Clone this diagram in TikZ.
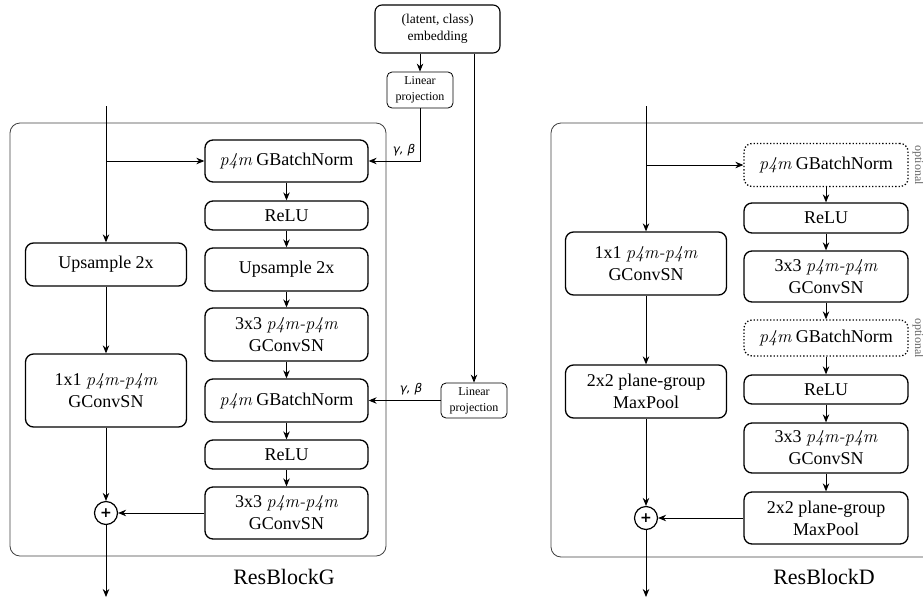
\documentclass[tikz,border=0pt]{standalone}
\usepackage{fontspec}
\setmainfont{Liberation Serif}
\newfontfamily\gbfont{DejaVu Sans}
\usetikzlibrary{arrows.meta}
\newcommand{\pfm}{{\fontfamily{lmr}\selectfont\itshape p4m}}
\newcommand{\pfmpfm}{{\fontfamily{lmr}\selectfont\itshape p4m-p4m}}
\tikzset{
  blk/.style={draw, line width=1.3pt, rounded corners=8pt, align=center, inner sep=0pt,
              font=\fontsize{18}{22}\selectfont},
  opt/.style={blk, dotted},
  small/.style={draw, line width=0.8pt, rounded corners=5pt, align=center, inner sep=0pt,
              font=\fontsize{12}{16}\selectfont},
  arr/.style={-{Stealth[length=8pt,width=6.5pt]}, line width=0.9pt},
  panel/.style={draw=black!75, line width=0.8pt, rounded corners=10pt},
  plus/.style={circle, draw, line width=1.2pt, minimum size=23pt, inner sep=0pt,
              font=\gbfont\bfseries\fontsize{14}{14}\selectfont},
  gb/.style={font=\gbfont\itshape\fontsize{12}{12}\selectfont},
  optlbl/.style={rotate=-90, text=black!60, font=\fontsize{12}{12}\selectfont},
  title/.style={font=\fontsize{22}{26}\selectfont}
}
\begin{document}
\begin{tikzpicture}[x=1pt,y=-1pt]
\useasboundingbox (0,0) rectangle (923,600);
\clip (0,0) rectangle (923,600);
% panels
\draw[panel] (10,123) rectangle (386,556);
\draw[panel] (551,123) rectangle (945,557);

% ---------------- ResBlockG ----------------
\coordinate (inG) at (106,106);
\coordinate (outG) at (106,597);
\node[blk, minimum width=161pt, minimum height=43pt] (upL) at (106,264.5) {Upsample 2x};
\node[blk, minimum width=161pt, minimum height=73pt] (convL) at (106,390.5) {1x1 \pfmpfm\\GConvSN};
\node[plus] (plusG) at (106,513) {+};

\node[blk, minimum width=163pt, minimum height=42pt] (bn1) at (286.5,161) {\pfm{} GBatchNorm};
\node[blk, minimum width=163pt, minimum height=29pt] (relu1) at (286.5,215.5) {ReLU};
\node[blk, minimum width=163pt, minimum height=43pt] (up2) at (286.5,269.5) {Upsample 2x};
\node[blk, minimum width=163pt, minimum height=53pt] (conv1) at (286.5,334.5) {3x3 \pfmpfm\\GConvSN};
\node[blk, minimum width=163pt, minimum height=43pt] (bn2) at (286.5,400.5) {\pfm{} GBatchNorm};
\node[blk, minimum width=163pt, minimum height=29pt] (relu2) at (286.5,454.5) {ReLU};
\node[blk, minimum width=163pt, minimum height=52pt] (conv2) at (286.5,513) {3x3 \pfmpfm\\GConvSN};

\node[small, line width=1.1pt, rounded corners=7pt, minimum width=125pt, minimum height=48pt,
      font=\fontsize{13.5}{17}\selectfont] (embed) at (437.5,29) {(latent, class)\\embedding};
\node[small, minimum width=66pt, minimum height=36pt] (lin1) at (420,90) {Linear\\projection};
\node[small, minimum width=66pt, minimum height=35pt] (lin2) at (474,400.5) {Linear\\projection};

\draw[arr] (inG) -- (upL.north);
\draw[arr] (upL) -- (convL);
\draw[arr] (convL) -- (plusG);
\draw[arr] (plusG) -- (outG);
\draw[arr] (inG |- bn1.west) -- (bn1.west);
\draw[arr] (bn1) -- (relu1);
\draw[arr] (relu1) -- (up2);
\draw[arr] (up2) -- (conv1);
\draw[arr] (conv1) -- (bn2);
\draw[arr] (bn2) -- (relu2);
\draw[arr] (relu2) -- (conv2);
\draw[arr] (conv2) -- (plusG);
\draw[arr] (embed.south -| lin1.north) -- (lin1.north);
\draw[arr] (lin1.south) |- (bn1.east);
\draw[arr] (embed.south -| lin2.north) -- (lin2.north);
\draw[arr] (lin2.west) -- (bn2.east);
\node[gb] (gb1) at (404,150) {γ, β};
\node[gb] (gb2) at (411,389) {γ, β};
\node[title] (tG) at (284,577) {ResBlockG};

% ---------------- ResBlockD ----------------
\coordinate (inD) at (646,106);
\coordinate (outD) at (646,597);
\node[blk, minimum width=161pt, minimum height=63pt] (dconvL) at (646,263.5) {1x1 \pfmpfm\\GConvSN};
\node[blk, minimum width=161pt, minimum height=53pt] (dpoolL) at (646,391.5) {2x2 plane-group\\MaxPool};
\node[plus] (plusD) at (646,518) {+};

\node[opt, minimum width=164pt, minimum height=43pt] (dbn1) at (826,165) {\pfm{} GBatchNorm};
\node[blk, minimum width=164pt, minimum height=30pt] (drelu1) at (826,218) {ReLU};
\node[blk, minimum width=164pt, minimum height=51pt] (dconv1) at (826,276.5) {3x3 \pfmpfm\\GConvSN};
\node[opt, minimum width=164pt, minimum height=36pt] (dbn2) at (826,338) {\pfm{} GBatchNorm};
\node[blk, minimum width=164pt, minimum height=29pt] (drelu2) at (826,389.5) {ReLU};
\node[blk, minimum width=164pt, minimum height=50pt] (dconv2) at (826,448) {3x3 \pfmpfm\\GConvSN};
\node[blk, minimum width=164pt, minimum height=52pt] (dpool2) at (826,518) {2x2 plane-group\\MaxPool};

\draw[arr] (inD) -- (dconvL.north);
\draw[arr] (dconvL) -- (dpoolL);
\draw[arr] (dpoolL) -- (plusD);
\draw[arr] (plusD) -- (outD);
\draw[arr] (inD |- dbn1.west) -- (dbn1.west);
\draw[arr] (dbn1) -- (drelu1);
\draw[arr] (drelu1) -- (dconv1);
\draw[arr] (dconv1) -- (dbn2);
\draw[arr] (dbn2) -- (drelu2);
\draw[arr] (drelu2) -- (dconv2);
\draw[arr] (dconv2) -- (dpool2);
\draw[arr] (dpool2) -- (plusD);
\node[optlbl] (o1) at (918,165) {optional};
\node[optlbl] (o2) at (918,338) {optional};
\node[title] (tD) at (824,577) {ResBlockD};
\end{tikzpicture}
\end{document}
